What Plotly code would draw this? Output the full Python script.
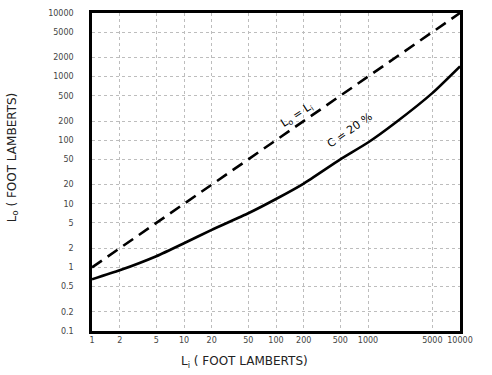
import plotly.graph_objects as go

# Data
x_ticks = [1, 2, 5, 10, 20, 50, 100, 200, 500, 1000, 5000, 10000]
x_tick_text = ["1", "2", "5", "10", "20", "50", "100", "200", "500", "1000", "5000", "10000"]
y_ticks = [0.1, 0.2, 0.5, 1, 2, 5, 10, 20, 50, 100, 200, 500, 1000, 2000, 5000, 10000]
y_tick_text = ["0.1", "0.2", "0.5", "1", "2", "5", "10", "20", "50", "100", "200", "500", "1000", "2000", "5000", "10000"]

equal_x = [1, 10000]
equal_y = [1, 10000]

c20_x = [1, 2, 5, 10, 20, 50, 100, 200, 500, 1000, 2000, 5000, 10000]
c20_y = [0.65, 0.9, 1.5, 2.4, 3.9, 7.1, 11.9, 20.8, 50, 92, 190, 550, 1450]

fig = go.Figure()
fig.add_trace(go.Scatter(x=equal_x, y=equal_y, mode="lines",
                         line=dict(color="black", width=2.6, dash="12px,7px"),
                         showlegend=False))
fig.add_trace(go.Scatter(x=c20_x, y=c20_y, mode="lines",
                         line=dict(color="black", width=2.6, shape="spline", smoothing=0.5),
                         showlegend=False))

tick_font = dict(family="DejaVu Sans", size=8, color="#444")
grid_style = dict(showgrid=True, gridcolor="#bdbdbd", griddash="dot", gridwidth=1)
fig.update_xaxes(type="log", range=[0, 4], tickvals=x_ticks, ticktext=x_tick_text,
                 showline=True, linecolor="black", linewidth=2.5, mirror=True,
                 ticks="", tickfont=tick_font, zeroline=False, **grid_style)
fig.update_yaxes(type="log", range=[-1, 4], tickvals=y_ticks, ticktext=y_tick_text,
                 showline=True, linecolor="black", linewidth=2.5, mirror=True,
                 ticks="", ticklabelstandoff=14, tickfont=tick_font, zeroline=False, **grid_style)

fig.add_annotation(x=2.228, y=2.40, xref="x", yref="y", text="L<sub>o</sub> = L<sub>i</sub>",
                   showarrow=False, textangle=-33,
                   font=dict(family="DejaVu Sans", size=11, color="black"))
fig.add_annotation(x=2.80, y=2.15, xref="x", yref="y", text="C = 20 %",
                   showarrow=False, textangle=-35,
                   font=dict(family="DejaVu Sans", size=11, color="black"))

# axis titles positioned in paper coordinates derived from pixel positions
pw, ph = 492 - 92 - 32, 375 - 9 - 44
fig.add_annotation(x=(244 - 92) / pw, y=(375 - 44 - 362) / ph, xref="paper", yref="paper",
                   xanchor="center", yanchor="middle",
                   text="L<sub>i</sub> ( FOOT LAMBERTS)", showarrow=False,
                   font=dict(family="DejaVu Sans", size=12, color="#222"))
fig.add_annotation(x=(13 - 92) / pw, y=(375 - 44 - 155) / ph, xref="paper", yref="paper",
                   xanchor="center", yanchor="middle",
                   text="L<sub>o</sub> ( FOOT LAMBERTS)", showarrow=False, textangle=-90,
                   font=dict(family="DejaVu Sans", size=12, color="#222"))

fig.update_layout(width=492, height=375, margin=dict(l=92, r=32, t=9, b=44),
                  plot_bgcolor="white", paper_bgcolor="white")

fig.write_html("out.html")
